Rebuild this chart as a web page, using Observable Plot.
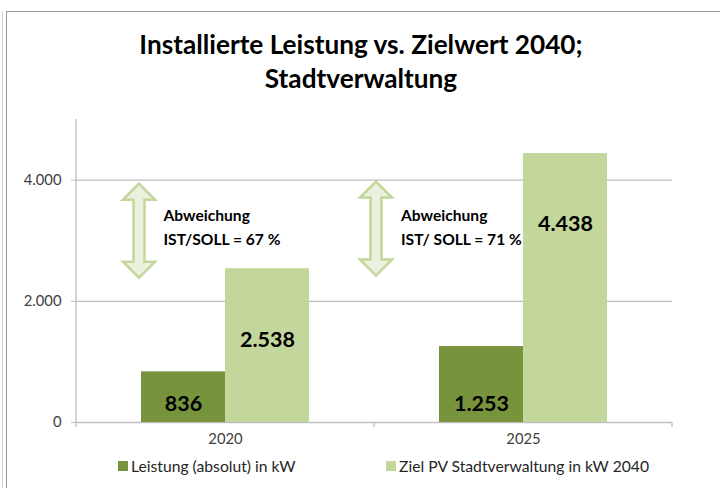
<!DOCTYPE html>
<html><head><meta charset="utf-8">
<script src="https://cdn.jsdelivr.net/npm/d3@7"></script>
<script src="https://cdn.jsdelivr.net/npm/@observablehq/plot@0.6"></script>
<style>
body{margin:0;background:#fff;}
#wrap{position:relative;width:720px;height:488px;overflow:hidden;font-family:Lato,"Open Sans",sans-serif;background:#fff;}
#b1{position:absolute;left:2px;top:11px;bottom:0;width:1px;background:#d0d0d0;}
#b2{position:absolute;left:6px;top:11px;bottom:0;width:1px;background:#9a9a9a;}
#b3{position:absolute;left:6px;top:11px;right:0;height:1px;background:#9a9a9a;}
#title{position:absolute;left:0;width:722px;top:27px;text-align:center;font-weight:700;font-size:26.2px;line-height:34px;color:#000;}
#chart{position:absolute;left:0;top:105px;}
.leg{position:absolute;top:457px;font-size:15.7px;color:#262626;display:flex;align-items:center;white-space:nowrap;}
.sw{width:10px;height:10px;margin-right:3px;}
</style></head>
<body><div id="wrap">
<div id="b1"></div><div id="b2"></div><div id="b3"></div>
<div id="title">Installierte Leistung vs. Zielwert 2040;<br>Stadtverwaltung</div>
<div id="chart"></div>
<div id="legend"></div>
</div>
<script>
const years = ["2020", "2025"];
const seriesNames = ["Leistung (absolut) in kW", "Ziel PV Stadtverwaltung in kW 2040"];
const leistung = [836, 1253];
const ziel = [2538, 4438];
const yTicks = [0, 2000, 4000];
const yMax = 5000;
const annoLine1 = ["Abweichung", "Abweichung"];
const annoLine2 = ["IST/SOLL = 67 %", "IST/ SOLL = 71 %"];
const arrowMid = [3166, 3200];
const annoTextMid = [3250, 3260];

const colors = ["#77933C", "#C3D69B"];
const fmt = v => d3.format(",")(v).replace(/,/g, ".");

const bars = years.flatMap((yr, i) => [
  {year: yr, series: seriesNames[0], value: leistung[i]},
  {year: yr, series: seriesNames[1], value: ziel[i]}
]);
const annos = years.map((yr, i) => ({year: yr, arrow: arrowMid[i], textY: annoTextMid[i], text: annoLine1[i] + "\n" + annoLine2[i]}));

const arrowSymbol = {
  draw(ctx) {
    ctx.moveTo(0, -47); ctx.lineTo(16, -31); ctx.lineTo(5.5, -31); ctx.lineTo(5.5, 31);
    ctx.lineTo(16, 31); ctx.lineTo(0, 47); ctx.lineTo(-16, 31); ctx.lineTo(-5.5, 31);
    ctx.lineTo(-5.5, -31); ctx.lineTo(-16, -31); ctx.closePath();
  }
};
const arrowDx = [62.5, 1.5];
const textDx = [87, 26.5];

const annoMarks = annos.flatMap((a, i) => [
  Plot.dot([a], {fx: "year", y: "arrow", frameAnchor: "left", dx: arrowDx[i], symbol: arrowSymbol,
    fill: "#EBF1DE", stroke: "#C3D69B", strokeWidth: 2.5}),
  Plot.text([a], {fx: "year", y: "textY", frameAnchor: "left", dx: textDx[i], text: "text", textAnchor: "start",
    lineAnchor: "middle", lineHeight: 1.55, fontWeight: 700, fontSize: 15.6, fill: "#000"})
]);

const plot = Plot.plot({
  width: 720, height: 355,
  marginLeft: 75, marginRight: 48, marginTop: 14, marginBottom: 38,
  style: {fontFamily: "Lato, 'Open Sans', sans-serif", fontSize: "14.8px", color: "#404040", background: "transparent"},
  fx: {domain: years, padding: 0, label: null, tickSize: 0, tickPadding: 11},
  x: {domain: seriesNames, paddingInner: 0, paddingOuter: 0.756, axis: null},
  y: {domain: [0, yMax], ticks: yTicks, tickFormat: fmt, label: null, tickSize: 5, tickPadding: 10},
  color: {domain: seriesNames, range: colors},
  marks: [
    Plot.ruleY(yTicks, {stroke: "#BFBFBF", strokeWidth: 1.3}),
    Plot.barY(bars, {fx: "year", x: "series", y: "value", fill: "series"}),
    Plot.text(bars.filter(d => d.series === seriesNames[0]), {fx: "year", x: "series", y: 0, dy: -18,
      text: d => fmt(d.value), fontWeight: 700, fontSize: 21.5, fill: "#000"}),
    Plot.text(bars.filter(d => d.series === seriesNames[1]), {fx: "year", x: "series", y: "value", dy: 71,
      text: d => fmt(d.value), fontWeight: 700, fontSize: 21.5, fill: "#000"}),
    ...annoMarks
  ]
});

const svg = d3.select(plot);
svg.selectAll('[aria-label="y-axis tick"]').attr("stroke", "#BFBFBF").selectAll("path").attr("stroke", "#BFBFBF");
const ys = plot.scale("y"), fxs = plot.scale("fx");
const y0 = ys.apply(0), yTop = ys.apply(yMax);
const bw = fxs.bandwidth != null ? fxs.bandwidth : (fxs.range[1] - fxs.range[0]) / years.length;
const left = fxs.apply(years[0]);
const g = svg.append("g").attr("stroke", "#BFBFBF").attr("stroke-width", 1.3);
g.append("line").attr("x1", left).attr("x2", left).attr("y1", yTop).attr("y2", y0 + 5);
const bounds = years.map(y => fxs.apply(y)).concat([fxs.apply(years[years.length - 1]) + bw]);
bounds.slice(1).forEach(x => g.append("line").attr("x1", x).attr("x2", x).attr("y1", y0).attr("y2", y0 + 5));

document.getElementById("chart").appendChild(plot);

const legendLefts = [118, 386];
const legend = document.getElementById("legend");
seriesNames.forEach((s, i) => {
  const item = document.createElement("div");
  item.className = "leg";
  item.style.left = legendLefts[i] + "px";
  item.innerHTML = `<div class="sw" style="background:${colors[i]}"></div><span></span>`;
  item.querySelector("span").textContent = s;
  legend.appendChild(item);
});
</script>
</body></html>
